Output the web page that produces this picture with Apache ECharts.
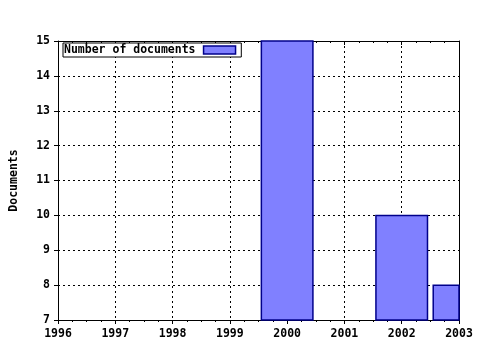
<!DOCTYPE html>
<html><head><meta charset="utf-8">
<script src="https://cdn.jsdelivr.net/npm/echarts@6/dist/echarts.min.js"></script>
<style>html,body{margin:0;padding:0;background:#fff}#c{width:480px;height:350px}</style>
</head><body><div id="c"></div>
<script>
const years = [2000, 2002, 2003];
const documents = [15, 10, 8];
const seriesName = 'Number of documents';
const yLabel = 'Documents';
const barSpan = 0.9; // fraction of a year

const font = {fontFamily: 'DejaVu Sans Mono', fontWeight: 'bold', fontSize: 11.5, color: '#000'};
const chart = echarts.init(document.getElementById('c'));
const xBase = {
  type: 'value', min: 1996, max: 2003, interval: 1,
  axisLine: {show: true, lineStyle: {color: '#000'}},
  axisTick: {show: true, length: 4, lineStyle: {color: '#000'}},
  minorTick: {show: true, splitNumber: 4, length: 2, lineStyle: {color: '#000'}},
  splitLine: {show: false}
};
chart.setOption({
  animation: false,
  grid: {left: 57, right: 21, top: 41, bottom: 30, show: false},
  legend: {
    left: 63, top: 43, align: 'right', itemWidth: 32, itemHeight: 8,
    backgroundColor: '#fff',
    borderColor: '#000', borderWidth: 1, padding: [1, 5, 1, 1], itemGap: 0,
    textStyle: Object.assign({}, font, {padding: [0, 3, 0, 0]}),
    data: [{name: seriesName, icon: 'rect', itemStyle: {color: '#8080ff', borderColor: '#00008b', borderWidth: 1.5}}]
  },
  xAxis: [
    Object.assign({}, xBase, {
      position: 'bottom',
      axisLabel: Object.assign({}, font, {margin: 8, formatter: v => String(v)}),
      splitLine: {show: true, lineStyle: {color: '#000', type: [2, 3]}}
    }),
    Object.assign({}, xBase, {position: 'top', axisTick: {show: true, inside: true, length: 4, lineStyle: {color: '#000'}}, minorTick: {show: true, splitNumber: 4, length: 2, lineStyle: {color: '#000'}}, axisLabel: {show: false}})
  ],
  yAxis: [{
    type: 'value', min: 7, max: 15, interval: 1,
    name: yLabel, nameLocation: 'middle', nameGap: 38, nameRotate: 90,
    nameTextStyle: font,
    axisLine: {show: true, lineStyle: {color: '#000'}},
    axisTick: {show: true, length: 4, lineStyle: {color: '#000'}},
    axisLabel: Object.assign({}, font, {margin: 8}),
    splitLine: {show: true, lineStyle: {color: '#000', type: [2, 3]}}
  }, {
    type: 'value', min: 7, max: 15, interval: 1, position: 'right',
    axisLine: {show: true, lineStyle: {color: '#000'}},
    axisTick: {show: false}, axisLabel: {show: false}, splitLine: {show: false}
  }],
  series: [{
    name: seriesName, type: 'custom',
    itemStyle: {color: '#8080ff', borderColor: '#00008b', borderWidth: 1.5},
    renderItem: function (params, api) {
      const x = api.value(0), y = api.value(1);
      const p0 = api.coord([x - barSpan / 2, y]);
      const p1 = api.coord([x + barSpan / 2, 7]);
      const rect = echarts.graphic.clipRectByRect(
        {x: p0[0], y: p0[1], width: p1[0] - p0[0], height: p1[1] - p0[1]},
        {x: params.coordSys.x, y: params.coordSys.y, width: params.coordSys.width, height: params.coordSys.height});
      return rect && {type: 'rect', shape: rect, style: {fill: '#8080ff', stroke: '#00008b', lineWidth: 1.5}};
    },
    data: years.map((y, i) => [y, documents[i]])
  }]
});
</script></body></html>
